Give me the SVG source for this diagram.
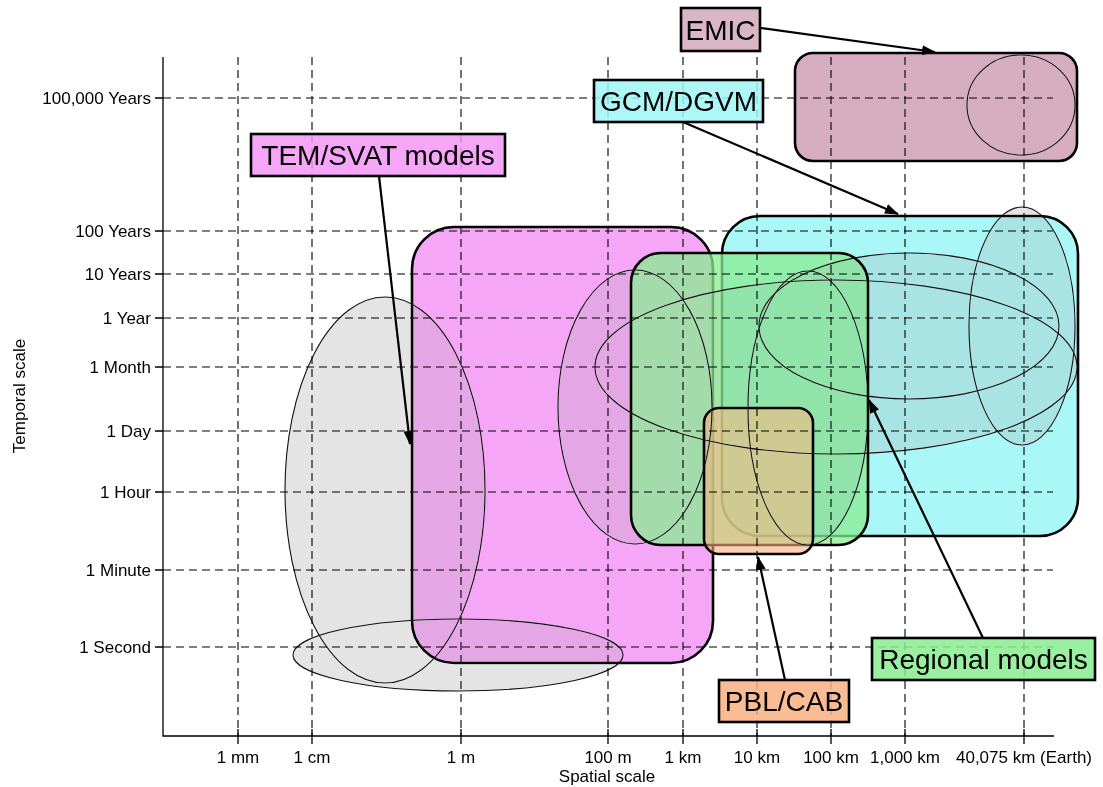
<svg xmlns="http://www.w3.org/2000/svg" width="1103" height="787" viewBox="0 0 1103 787">
  <style>
    text { font-family: "Liberation Sans", Arial, sans-serif; fill: #000; }
    .tick-label { font-size: 17px; }
    .axis-title { font-size: 17px; }
    .model { font-size: 28px; text-anchor: middle; }
    .axis { stroke: #000; stroke-width: 1.3; fill: none; }
    .grid { stroke: #000; stroke-width: 1.1; stroke-dasharray: 8 5; fill: none; }
    .zone { stroke: #000; stroke-width: 2.6; }
    .range { fill: #e4e4e4; stroke: #111; stroke-width: 1.1; mix-blend-mode: darken; }
    .tag { stroke: #000; stroke-width: 2.6; fill-opacity: 0.85; }
    .pointer { stroke: #000; stroke-width: 2.2; fill: none; marker-end: url(#head); }
    .tem { fill: #f596f5; }
    .gcm { fill: #a0f6f6; }
    .reg { fill: #88ec90; }
    .pbl { fill: #f8b080; }
    .emic { fill: #d4a8bc; }
  </style>
  <defs>
    <marker id="head" viewBox="0 0 14 10" refX="13" refY="5" markerWidth="14" markerHeight="10" markerUnits="userSpaceOnUse" orient="auto">
      <path d="M0,0 L14,5 L0,10 Z" fill="#000"/>
    </marker>
  </defs>

  <rect width="1103" height="787" fill="#fff"/>

  <!-- model domains -->
  <g id="zone-tem">
    <rect class="zone tem" x="412" y="227" width="301" height="436" rx="42" ry="42" fill-opacity="0.85"/>
  </g>
  <g id="zone-gcm">
    <rect class="zone gcm" x="722" y="216" width="356" height="320" rx="38" ry="38" fill-opacity="0.9"/>
  </g>
  <g id="zone-regional">
    <rect class="zone reg" x="631" y="253" width="237" height="292" rx="30" ry="30" fill-opacity="0.75"/>
  </g>
  <g id="zone-pbl">
    <rect class="zone pbl" x="704" y="408" width="109" height="146" rx="15" ry="15" fill-opacity="0.6"/>
  </g>
  <g id="zone-emic">
    <rect class="zone emic" x="795" y="53" width="282" height="108" rx="18" ry="18" fill-opacity="0.95"/>
  </g>

  <!-- individual process ranges -->
  <g id="ranges">
    <ellipse class="range" cx="385" cy="490" rx="100" ry="193"/>
    <ellipse class="range" cx="458" cy="655" rx="165" ry="36"/>
    <ellipse class="range" cx="635" cy="407" rx="77" ry="137"/>
    <ellipse class="range" cx="836" cy="367" rx="241" ry="87"/>
    <ellipse class="range" cx="909" cy="326" rx="150" ry="73"/>
    <ellipse class="range" cx="1022" cy="326" rx="53" ry="119"/>
    <ellipse class="range" cx="808" cy="408" rx="60" ry="137"/>
    <ellipse class="range" cx="1021" cy="105" rx="54" ry="50"/>
  </g>

  <!-- scale grid -->
  <g id="grid">
    <line class="grid" x1="163" y1="98" x2="1053" y2="98"/>
    <line class="grid" x1="163" y1="231" x2="1053" y2="231"/>
    <line class="grid" x1="163" y1="274" x2="1053" y2="274"/>
    <line class="grid" x1="163" y1="318" x2="1053" y2="318"/>
    <line class="grid" x1="163" y1="367" x2="1053" y2="367"/>
    <line class="grid" x1="163" y1="431" x2="1053" y2="431"/>
    <line class="grid" x1="163" y1="492" x2="1053" y2="492"/>
    <line class="grid" x1="163" y1="570" x2="1053" y2="570"/>
    <line class="grid" x1="163" y1="647" x2="1053" y2="647"/>
    <line class="grid" x1="238" y1="57" x2="238" y2="736"/>
    <line class="grid" x1="312" y1="57" x2="312" y2="736"/>
    <line class="grid" x1="461" y1="57" x2="461" y2="736"/>
    <line class="grid" x1="608" y1="57" x2="608" y2="736"/>
    <line class="grid" x1="683" y1="57" x2="683" y2="736"/>
    <line class="grid" x1="757" y1="57" x2="757" y2="736"/>
    <line class="grid" x1="831" y1="57" x2="831" y2="736"/>
    <line class="grid" x1="905" y1="57" x2="905" y2="736"/>
    <line class="grid" x1="1024" y1="57" x2="1024" y2="736"/>
  </g>

  <!-- axes -->
  <g id="axes">
    <path class="axis" d="M163,57 V736 H1054"/>
    <path class="axis" d="M155,98 H163 M155,231 H163 M155,274 H163 M155,318 H163 M155,367 H163 M155,431 H163 M155,492 H163 M155,570 H163 M155,647 H163"/>
    <path class="axis" d="M238,729 V744 M312,729 V744 M461,729 V744 M608,729 V744 M683,729 V744 M757,729 V744 M831,729 V744 M905,729 V744 M1024,729 V744"/>
    <g class="tick-label" text-anchor="end">
      <text x="151" y="104">100,000 Years</text>
      <text x="151" y="237">100 Years</text>
      <text x="151" y="280">10 Years</text>
      <text x="151" y="324">1 Year</text>
      <text x="151" y="373">1 Month</text>
      <text x="151" y="437">1 Day</text>
      <text x="151" y="498">1 Hour</text>
      <text x="151" y="576">1 Minute</text>
      <text x="151" y="653">1 Second</text>
    </g>
    <g class="tick-label" text-anchor="middle">
      <text x="238" y="763">1 mm</text>
      <text x="312" y="763">1 cm</text>
      <text x="461" y="763">1 m</text>
      <text x="608" y="763">100 m</text>
      <text x="683" y="763">1 km</text>
      <text x="757" y="763">10 km</text>
      <text x="831" y="763">100 km</text>
      <text x="905" y="763">1,000 km</text>
      <text x="1024" y="763">40,075 km (Earth)</text>
    </g>
    <text class="axis-title" x="607" y="782" text-anchor="middle">Spatial scale</text>
    <text class="axis-title" x="0" y="0" text-anchor="middle" font-size="16" transform="translate(25,396) rotate(-90)">Temporal scale</text>
  </g>

  <!-- label pointers -->
  <g id="connectors">
    <line class="pointer" x1="761" y1="28" x2="935" y2="52"/>
    <line class="pointer" x1="683" y1="122" x2="898" y2="214"/>
    <line class="pointer" x1="379" y1="176" x2="410" y2="444"/>
    <line class="pointer" x1="983" y1="638" x2="869" y2="400"/>
    <line class="pointer" x1="785" y1="680" x2="758" y2="557"/>
  </g>

  <!-- model labels -->
  <g id="label-emic">
    <rect class="tag emic" x="681" y="8" width="79" height="43"/>
    <text class="model" x="720.5" y="40">EMIC</text>
  </g>
  <g id="label-gcm">
    <rect class="tag gcm" x="594" y="80" width="169" height="42"/>
    <text class="model" x="678.5" y="111">GCM/DGVM</text>
  </g>
  <g id="label-tem">
    <rect class="tag tem" x="251" y="134" width="254" height="42"/>
    <text class="model" x="378" y="165">TEM/SVAT models</text>
  </g>
  <g id="label-regional">
    <rect class="tag reg" x="872" y="638" width="223" height="42"/>
    <text class="model" x="983.5" y="669">Regional models</text>
  </g>
  <g id="label-pbl">
    <rect class="tag pbl" x="719" y="680" width="130" height="42"/>
    <text class="model" x="784" y="711">PBL/CAB</text>
  </g>
</svg>
